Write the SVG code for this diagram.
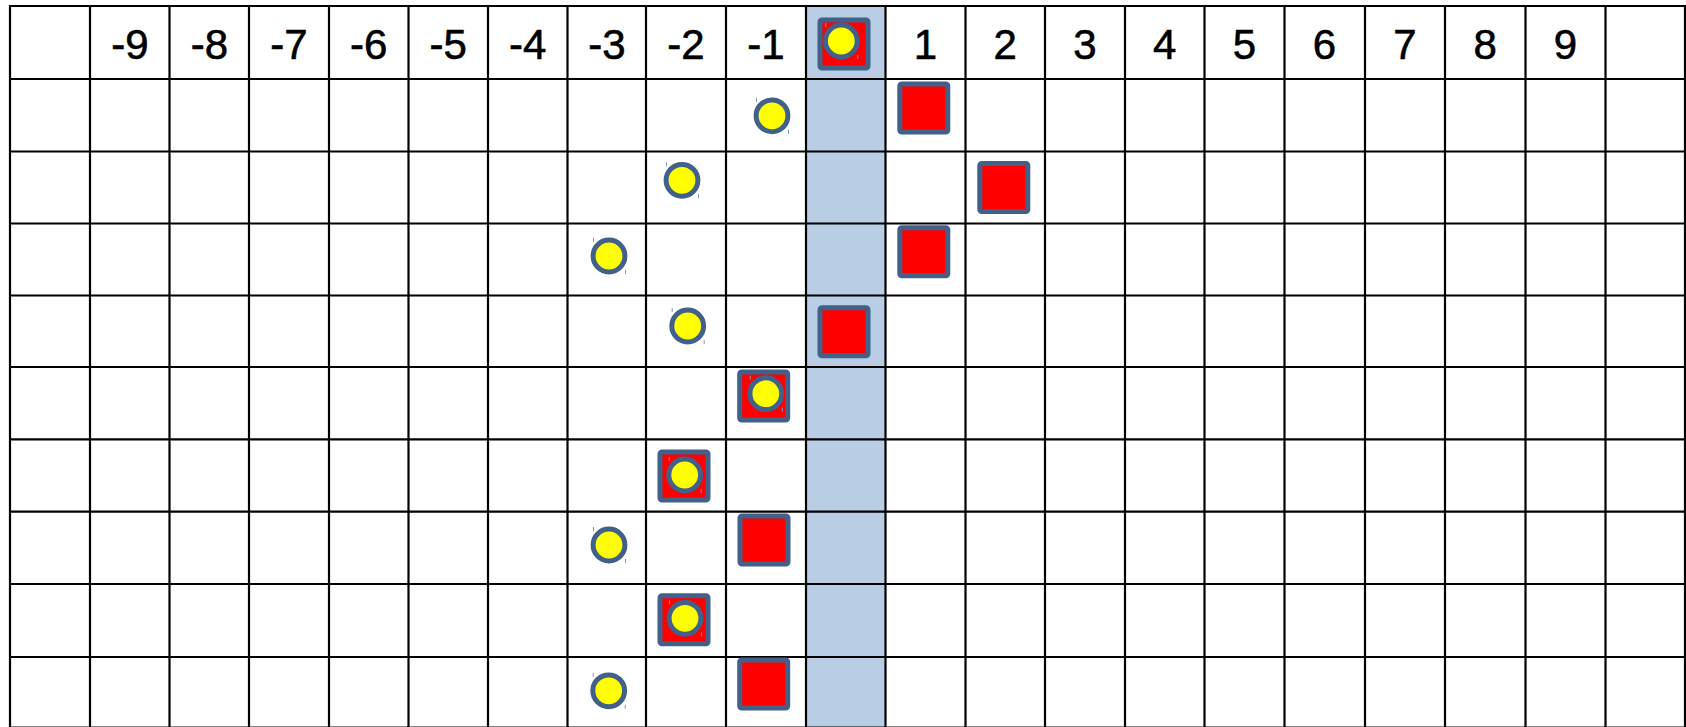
<svg xmlns="http://www.w3.org/2000/svg" width="1686" height="727" viewBox="0 0 1686 727">
<style>
  .grid line { stroke: #000; stroke-width: 2.2; }
  .lbl { font-family: "Liberation Sans", Arial, sans-serif; font-size: 42px; fill: #000; stroke: #000; stroke-width: 0.6; text-anchor: middle; }
  .sq { fill: #FF0000; stroke: #41608A; stroke-width: 5; }
  .ci { fill: #FFFF00; stroke: #41608A; stroke-width: 5; }
  .tk { stroke: #7C98BE; stroke-width: 1; }
</style>
<defs>
  <rect id="square" class="sq" x="-24" y="-24" width="48" height="48" rx="2"/>
  <g id="circle">
    <circle class="ci" cx="0" cy="0" r="15.9"/>
    <line class="tk" x1="-15.5" y1="-18" x2="-15.5" y2="-14"/>
    <line class="tk" x1="16.5" y1="14" x2="16.5" y2="18"/>
  </g>
</defs>
<rect x="0" y="0" width="1686" height="727" fill="#FFFFFF"/>
<rect id="highlight" x="806" y="6" width="79.5" height="722" fill="#B9CDE5"/>
<g class="grid" id="grid">
  <line x1="10" y1="5" x2="10" y2="728"/>
  <line x1="90" y1="5" x2="90" y2="728"/>
  <line x1="169.5" y1="5" x2="169.5" y2="728"/>
  <line x1="249" y1="5" x2="249" y2="728"/>
  <line x1="329" y1="5" x2="329" y2="728"/>
  <line x1="408.5" y1="5" x2="408.5" y2="728"/>
  <line x1="488" y1="5" x2="488" y2="728"/>
  <line x1="567.5" y1="5" x2="567.5" y2="728"/>
  <line x1="646" y1="5" x2="646" y2="728"/>
  <line x1="726" y1="5" x2="726" y2="728"/>
  <line x1="806" y1="5" x2="806" y2="728"/>
  <line x1="885.5" y1="5" x2="885.5" y2="728"/>
  <line x1="965.5" y1="5" x2="965.5" y2="728"/>
  <line x1="1045" y1="5" x2="1045" y2="728"/>
  <line x1="1125" y1="5" x2="1125" y2="728"/>
  <line x1="1204.5" y1="5" x2="1204.5" y2="728"/>
  <line x1="1284.5" y1="5" x2="1284.5" y2="728"/>
  <line x1="1365" y1="5" x2="1365" y2="728"/>
  <line x1="1445" y1="5" x2="1445" y2="728"/>
  <line x1="1525.5" y1="5" x2="1525.5" y2="728"/>
  <line x1="1605.5" y1="5" x2="1605.5" y2="728"/>
  <line x1="1685" y1="5" x2="1685" y2="728"/>
  <line x1="9" y1="6" x2="1686" y2="6"/>
  <line x1="9" y1="79" x2="1686" y2="79"/>
  <line x1="9" y1="151.5" x2="1686" y2="151.5"/>
  <line x1="9" y1="223.5" x2="1686" y2="223.5"/>
  <line x1="9" y1="295.5" x2="1686" y2="295.5"/>
  <line x1="9" y1="367" x2="1686" y2="367"/>
  <line x1="9" y1="439.3" x2="1686" y2="439.3"/>
  <line x1="9" y1="511.7" x2="1686" y2="511.7"/>
  <line x1="9" y1="584" x2="1686" y2="584"/>
  <line x1="9" y1="657" x2="1686" y2="657"/>
  <line x1="9" y1="727.5" x2="1686" y2="727.5"/>
</g>
<g id="labels">
  <text class="lbl" x="130" y="59">-9</text>
  <text class="lbl" x="209.5" y="59">-8</text>
  <text class="lbl" x="289" y="59">-7</text>
  <text class="lbl" x="368.8" y="59">-6</text>
  <text class="lbl" x="448.3" y="59">-5</text>
  <text class="lbl" x="527.8" y="59">-4</text>
  <text class="lbl" x="607" y="59">-3</text>
  <text class="lbl" x="686" y="59">-2</text>
  <text class="lbl" x="766" y="59">-1</text>
  <text class="lbl" x="925.5" y="59">1</text>
  <text class="lbl" x="1005.3" y="59">2</text>
  <text class="lbl" x="1085" y="59">3</text>
  <text class="lbl" x="1164.8" y="59">4</text>
  <text class="lbl" x="1244.5" y="59">5</text>
  <text class="lbl" x="1324.5" y="59">6</text>
  <text class="lbl" x="1405" y="59">7</text>
  <text class="lbl" x="1485.3" y="59">8</text>
  <text class="lbl" x="1565.5" y="59">9</text>
</g>
<g id="node-r0-square"><use href="#square" x="844" y="44"/></g>
<g id="node-r0-circle"><use href="#circle" x="841.3" y="41"/></g>
<g id="node-r1-circle"><use href="#circle" x="772" y="115.8"/></g>
<g id="node-r1-square"><use href="#square" x="923.8" y="108"/></g>
<g id="node-r2-circle"><use href="#circle" x="682" y="180.3"/></g>
<g id="node-r2-square"><use href="#square" x="1003.8" y="187.5"/></g>
<g id="node-r3-circle"><use href="#circle" x="609" y="256"/></g>
<g id="node-r3-square"><use href="#square" x="923.8" y="251.7"/></g>
<g id="node-r4-circle"><use href="#circle" x="687.7" y="326"/></g>
<g id="node-r4-square"><use href="#square" x="844" y="331.8"/></g>
<g id="node-r5-square"><use href="#square" x="763.7" y="396"/></g>
<g id="node-r5-circle"><use href="#circle" x="765.8" y="393.7"/></g>
<g id="node-r6-square"><use href="#square" x="684" y="476"/></g>
<g id="node-r6-circle"><use href="#circle" x="684.7" y="475"/></g>
<g id="node-r7-circle"><use href="#circle" x="609" y="545"/></g>
<g id="node-r7-square"><use href="#square" x="764" y="540"/></g>
<g id="node-r8-square"><use href="#square" x="684" y="619.7"/></g>
<g id="node-r8-circle"><use href="#circle" x="685" y="618.3"/></g>
<g id="node-r9-circle"><use href="#circle" x="608.7" y="690.8"/></g>
<g id="node-r9-square"><use href="#square" x="763.7" y="684"/></g>
<g id="connectors"></g>
</svg>
